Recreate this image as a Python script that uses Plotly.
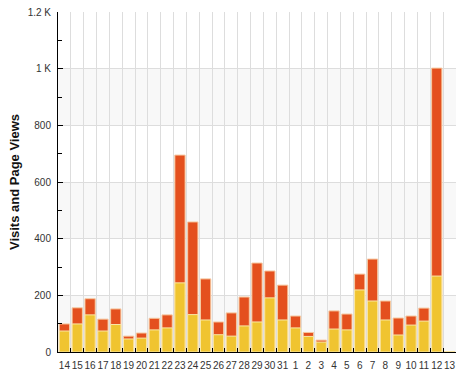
import plotly.graph_objects as go

days = ["14", "15", "16", "17", "18", "19", "20", "21", "22", "23", "24", "25", "26", "27", "28",
        "29", "30", "31", "1", "2", "3", "4", "5", "6", "7", "8", "9", "10", "11", "12", "13"]
visits = [74, 99, 131, 74, 97, 46, 49, 78, 85, 244, 132, 113, 61, 56, 92,
          106, 191, 113, 85, 55, 35, 81, 78, 219, 180, 113, 60, 95, 109, 268, 1]
page_views = [99, 156, 188, 116, 152, 56, 67, 119, 131, 695, 459, 258, 106, 138, 194,
              314, 286, 236, 127, 69, 42, 145, 134, 275, 328, 180, 120, 127, 155, 1002, 1]
y_ticks = [0, 200, 400, 600, 800, 1000, 1200]
y_tick_text = ["0", "200", "400", "600", "800", "1 K", "1.2 K"]

fig = go.Figure()
fig.add_trace(go.Bar(x=days, y=page_views, name="Page Views", width=0.8,
                     marker=dict(color="#e4501e", line=dict(color="#f6c9a0", width=1))))
fig.add_trace(go.Bar(x=days, y=visits, name="Visits", width=0.8,
                     marker=dict(color="#f0c430", line=dict(color="#f9e8a8", width=1))))

# alternating background bands
shapes = []
for i in range(len(y_ticks) - 1):
    if i % 2 == 0:
        shapes.append(dict(type="rect", xref="paper", yref="y", x0=0, x1=1,
                           y0=y_ticks[i], y1=y_ticks[i + 1], fillcolor="#f8f8f8",
                           line=dict(width=0), layer="below"))

fig.update_layout(
    width=459, height=380,
    margin=dict(l=58, r=3, t=12, b=28),
    barmode="overlay",
    showlegend=False,
    paper_bgcolor="white", plot_bgcolor="white",
    font=dict(family="Liberation Sans, Arial, sans-serif", size=10, color="#333333"),
    shapes=shapes,
    xaxis=dict(type="category", range=[-0.5, len(days) - 0.5], tickson="boundaries",
               showgrid=True, gridcolor="#dddddd", gridwidth=1,
               ticks="inside", ticklen=4, tickcolor="black", tickangle=0,
               ticklabelstandoff=4,
               showline=True, linecolor="black", linewidth=1, automargin=False,
               tickfont=dict(size=10, color="#333333"), fixedrange=True),
    yaxis=dict(range=[0, 1200], tickvals=y_ticks, ticktext=y_tick_text,
               showgrid=True, gridcolor="#dddddd", gridwidth=1,
               ticks="inside", ticklen=5, tickcolor="black",
               ticklabelstandoff=4,
               minor=dict(dtick=100, ticks="inside", ticklen=4, tickcolor="black", showgrid=False),
               showline=True, linecolor="black", linewidth=1, zeroline=False, automargin=False,
               title=dict(text="<b>Visits and Page Views</b>", font=dict(size=13, color="#111111"), standoff=5),
               tickfont=dict(size=10, color="#333333")),
)

fig.write_html("out.html", config={"displayModeBar": False},
               post_script="document.body.style.margin='0';")
